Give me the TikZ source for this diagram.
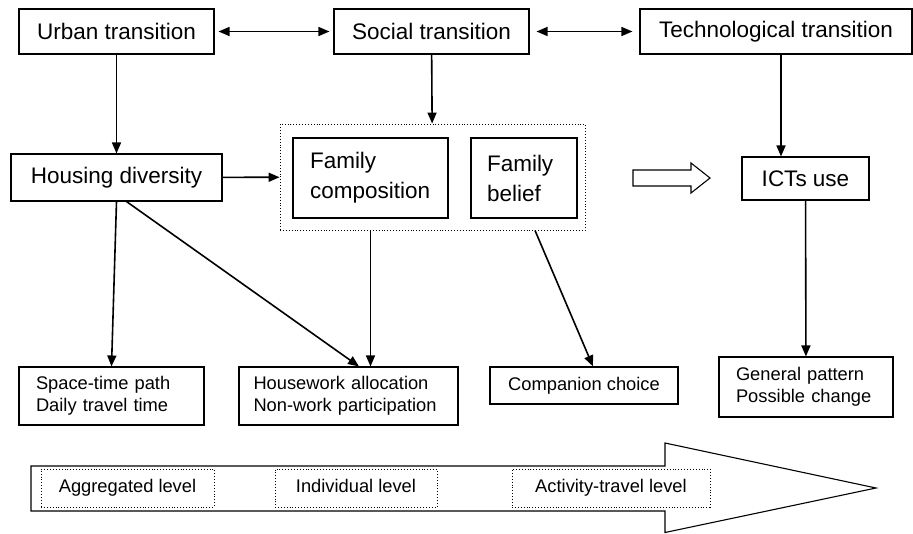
\documentclass[tikz,border=0pt]{standalone}
\usepackage{fontspec}
\setmainfont{Liberation Sans}
\usetikzlibrary{arrows.meta}

\begin{document}
\begin{tikzpicture}[x=1pt, y=-1pt,
    box/.style={draw, line width=1.1pt, inner sep=0pt, font=\fontsize{22.5}{30}\selectfont},
    smallbox/.style={draw, line width=1.1pt, inner sep=0pt, font=\fontsize{18.3}{21.5}\selectfont},
    levelbox/.style={draw, dotted, line width=0.9pt, inner sep=0pt, text height=13pt, text depth=4pt, font=\fontsize{18.3}{21.5}\selectfont},
    arr/.style={line width=1.6pt, -{Triangle[length=11pt, width=9pt]}},
    darr/.style={line width=1.6pt, {Triangle[length=11pt, width=9pt]}-{Triangle[length=11pt, width=9pt]}}]
    \useasboundingbox (0,0) rectangle (913,533);

    % transitions
    \node[box, minimum width=195, minimum height=45] (urban) at (116.5,31.5) {Urban transition};
    \node[box, minimum width=195, minimum height=45] (social) at (431.5,31.5) {Social transition};
    \node[box, minimum width=272, minimum height=45] (tech) at (776,31.5) {Technological transition};

    % middle row
    \node[box, minimum width=211, minimum height=47] (housing) at (116.5,177.5) {Housing diversity};
    \node[draw, dotted, line width=0.9pt, minimum width=305, minimum height=106] (family) at (432.5,177) {};
    \node[box, minimum width=155, minimum height=80, text width=121, align=left] (comp) at (370.5,178) {Family\\composition};
    \node[box, minimum width=106, minimum height=80, text width=74, align=left] (belief) at (524,178) {Family\\belief};
    \node[box, minimum width=127, minimum height=43] (icts) at (805.5,178.5) {ICTs use};
    \draw[line width=1.1pt] (633,170) -- (691,170) -- (691,163) -- (710,178)
        -- (691,193) -- (691,186) -- (633,186) -- cycle;

    % outcomes
    \node[smallbox, minimum width=185, minimum height=58, text width=151, align=left] (spacetime) at (111.5,396) {Space-time path\\Daily travel time};
    \node[smallbox, minimum width=219, minimum height=58, text width=190, align=left] (housework) at (348.5,396) {Housework allocation\\Non-work participation};
    \node[smallbox, minimum width=188, minimum height=37] (companion) at (584,385.5) {Companion choice};
    \node[smallbox, minimum width=174, minimum height=60, text width=140, align=left] (general) at (806,387) {General pattern\\Possible change};

    % levels
    \draw[line width=1.1pt, fill=white] (31,466) -- (665,466) -- (665,443) -- (876,488)
        -- (665,532.5) -- (665,511) -- (31,511) -- cycle;
    \node[levelbox, minimum width=173, minimum height=38] (aggregated) at (127.5,488) {Aggregated level};
    \node[levelbox, minimum width=162, minimum height=38] (individual) at (356,488) {Individual level};
    \node[levelbox, minimum width=198, minimum height=38] (activity) at (611,488) {Activity-travel level};

    % connectors
    \draw[darr, shorten <=4pt, shorten >=4pt] (urban) -- (social);
    \draw[darr, shorten <=7pt, shorten >=7pt] (social) -- (tech);
    \draw[arr] (urban) -- (housing);
    \draw[arr] (social) -- (family);
    \draw[arr] ([xshift=5pt]tech.south) -- ([xshift=-24.5pt]icts.north);
    \draw[arr] (housing) -- (family);
    \draw[arr] (housing.south) -- (spacetime.north);
    \draw[arr] ([xshift=10pt]housing.south) -- ([xshift=10.5pt]housework.north);
    \draw[arr] (comp.south |- family.south) -- (comp.south |- housework.north);
    \draw[arr] ([xshift=11pt]belief.south |- family.south) -- ([xshift=9pt]companion.north);
    \draw[arr] (icts) -- (general);
\end{tikzpicture}
\end{document}
